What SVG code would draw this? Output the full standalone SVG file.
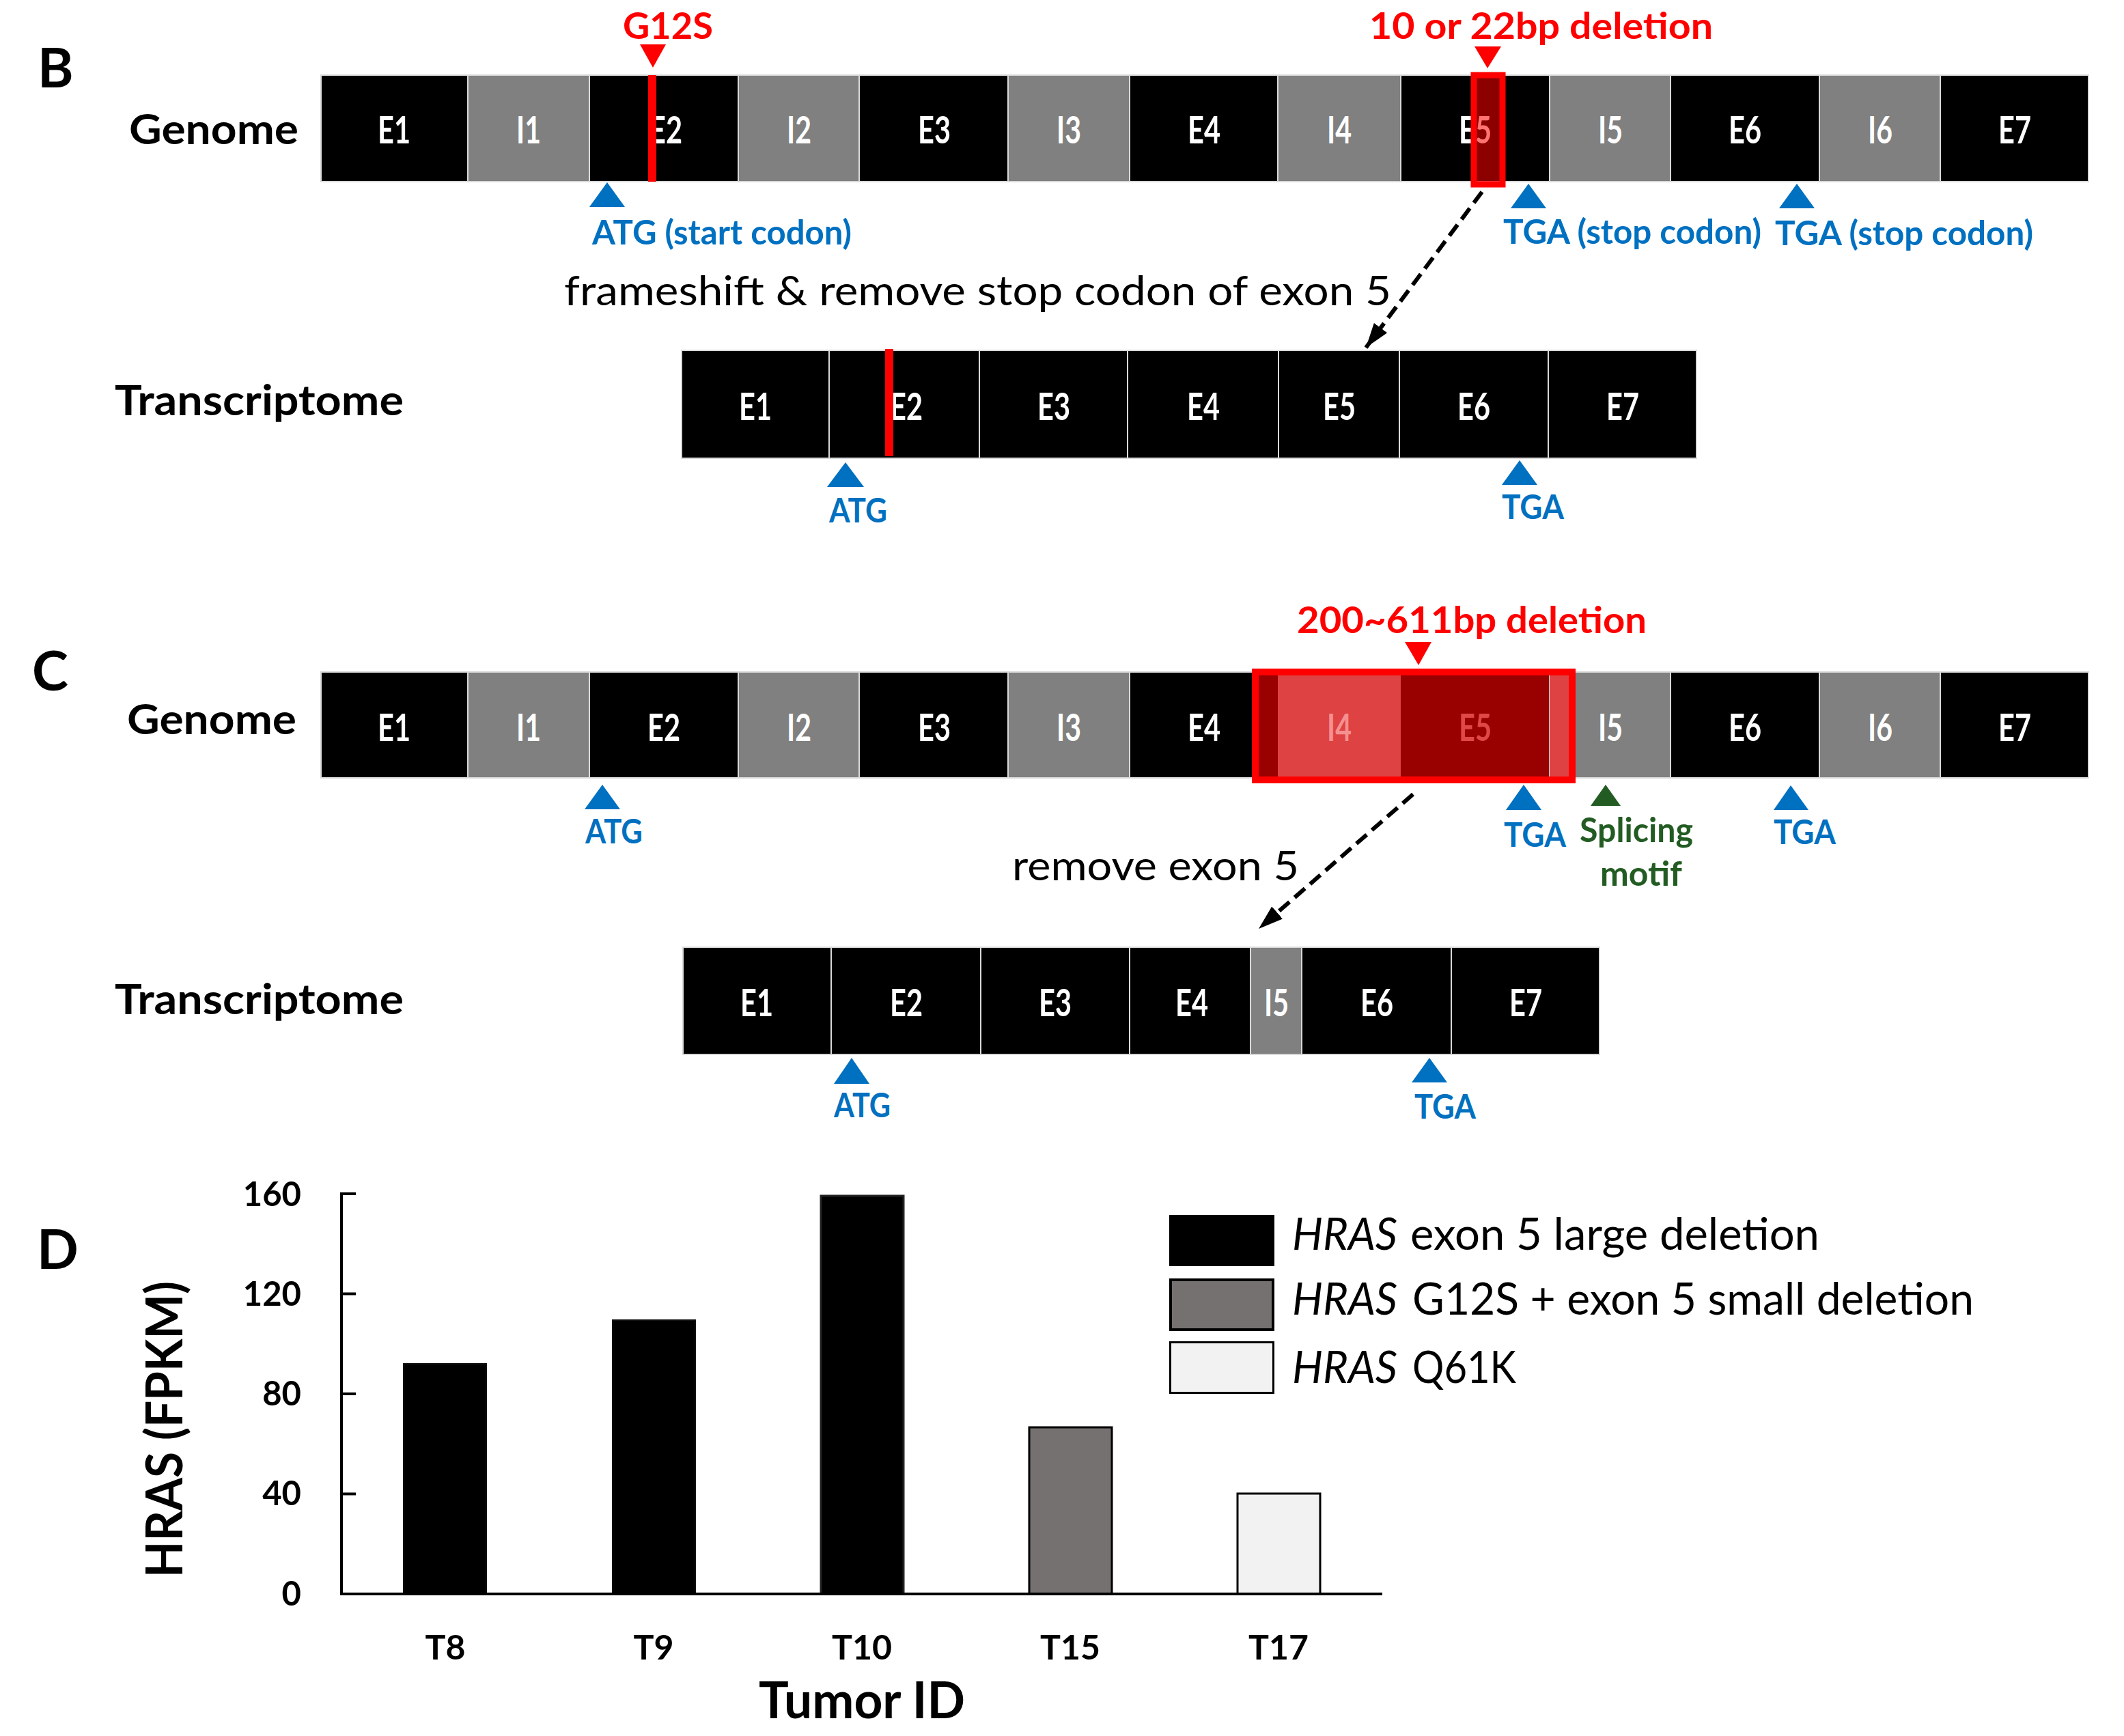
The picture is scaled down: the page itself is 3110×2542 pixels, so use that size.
<svg xmlns="http://www.w3.org/2000/svg" width="3110" height="2542" viewBox="0 0 3110 2542">
<style>
text{font-family:Lato,"Open Sans","Liberation Sans",sans-serif}
.ex{fill:#000;stroke:#d9d9d9;stroke-width:2}
.in{fill:#808080;stroke:#d9d9d9;stroke-width:2}
.seg{font-size:56px;font-weight:bold;fill:#fff;text-anchor:middle}
.panel{font-size:80px;font-weight:bold;fill:#000}
.row{font-size:62px;font-weight:bold;fill:#000}
.blue{font-size:49px;font-weight:bold;fill:#0070C0}
.bluetri{fill:#0070C0}
.red{font-size:54px;font-weight:bold;fill:#FF0000}
.redtri{fill:#FF0000}
.note{font-size:60px;fill:#000}
.green{font-size:49px;font-weight:bold;fill:#235C23}
.tick{font-size:49px;font-weight:bold;fill:#000;text-anchor:end}
.xl{font-size:50px;font-weight:bold;fill:#000;text-anchor:middle}
.leg{font-size:65px;fill:#000}
.axis{stroke:#000;stroke-width:4;fill:none}
.conn{stroke:#000;stroke-width:6;stroke-dasharray:20 10;fill:none}
</style>
<defs>
<marker id="ah" markerUnits="userSpaceOnUse" markerWidth="36" markerHeight="24" refX="36" refY="12" orient="auto">
<path d="M0,0 L36,12 L0,24 z" fill="#000"/>
</marker>
</defs>

<!-- Panel B -->
<text class="panel" x="55" y="128">B</text>
<text class="row" x="189" y="211" textLength="248" lengthAdjust="spacingAndGlyphs">Genome</text>
<g id="b-genome">
<g id="bg-E1"><rect class="ex" x="470" y="110" width="215" height="156"/><text class="seg" x="577" y="210" textLength="48" lengthAdjust="spacingAndGlyphs">E1</text></g>
<g id="bg-I1"><rect class="in" x="685" y="110" width="178" height="156"/><text class="seg" x="774" y="210" textLength="36" lengthAdjust="spacingAndGlyphs">I1</text></g>
<g id="bg-E2"><rect class="ex" x="863" y="110" width="218" height="156"/><text class="seg" x="975" y="210" textLength="48" lengthAdjust="spacingAndGlyphs">E2</text></g>
<g id="bg-I2"><rect class="in" x="1081" y="110" width="177" height="156"/><text class="seg" x="1170" y="210" textLength="36" lengthAdjust="spacingAndGlyphs">I2</text></g>
<g id="bg-E3"><rect class="ex" x="1258" y="110" width="218" height="156"/><text class="seg" x="1368" y="210" textLength="48" lengthAdjust="spacingAndGlyphs">E3</text></g>
<g id="bg-I3"><rect class="in" x="1476" y="110" width="178" height="156"/><text class="seg" x="1565" y="210" textLength="36" lengthAdjust="spacingAndGlyphs">I3</text></g>
<g id="bg-E4"><rect class="ex" x="1654" y="110" width="217" height="156"/><text class="seg" x="1763" y="210" textLength="48" lengthAdjust="spacingAndGlyphs">E4</text></g>
<g id="bg-I4"><rect class="in" x="1871" y="110" width="180" height="156"/><text class="seg" x="1961" y="210" textLength="36" lengthAdjust="spacingAndGlyphs">I4</text></g>
<g id="bg-E5"><rect class="ex" x="2051" y="110" width="218" height="156"/><text class="seg" x="2160" y="210" textLength="48" lengthAdjust="spacingAndGlyphs">E5</text></g>
<g id="bg-I5"><rect class="in" x="2269" y="110" width="177" height="156"/><text class="seg" x="2358" y="210" textLength="36" lengthAdjust="spacingAndGlyphs">I5</text></g>
<g id="bg-E6"><rect class="ex" x="2446" y="110" width="218" height="156"/><text class="seg" x="2555" y="210" textLength="48" lengthAdjust="spacingAndGlyphs">E6</text></g>
<g id="bg-I6"><rect class="in" x="2664" y="110" width="177" height="156"/><text class="seg" x="2753" y="210" textLength="36" lengthAdjust="spacingAndGlyphs">I6</text></g>
<g id="bg-E7"><rect class="ex" x="2841" y="110" width="217" height="156"/><text class="seg" x="2950" y="210" textLength="48" lengthAdjust="spacingAndGlyphs">E7</text></g>
</g>
<g id="b-g12s">
<text class="red" x="912" y="57" textLength="132" lengthAdjust="spacingAndGlyphs">G12S</text>
<polygon class="redtri" points="937,65 975,65 956,99"/>
<rect x="949" y="110" width="12" height="156" fill="#FF0000"/>
</g>
<g id="b-deletion">
<text class="red" x="2005" y="57" textLength="503" lengthAdjust="spacingAndGlyphs">10 or 22bp deletion</text>
<polygon class="redtri" points="2159,68 2198,68 2178,100"/>
<rect x="2158" y="110" width="42" height="160" fill="#FF0000" fill-opacity="0.55" stroke="#FF0000" stroke-width="9"/>
</g>
<g id="b-atg">
<polygon class="bluetri" points="889,267 863,303 915,303"/>
<text class="blue" x="867" y="358" textLength="380" lengthAdjust="spacingAndGlyphs">ATG (start codon)</text>
</g>
<g id="b-tga1">
<polygon class="bluetri" points="2238,269 2212,305 2264,305"/>
<text class="blue" x="2201" y="357" textLength="378" lengthAdjust="spacingAndGlyphs">TGA (stop codon)</text>
</g>
<g id="b-tga2">
<polygon class="bluetri" points="2631,269 2605,305 2657,305"/>
<text class="blue" x="2599" y="359" textLength="378" lengthAdjust="spacingAndGlyphs">TGA (stop codon)</text>
</g>
<text class="note" x="826" y="447" textLength="1211" lengthAdjust="spacingAndGlyphs">frameshift &amp; remove stop codon of exon 5</text>

<text class="row" x="168" y="608" textLength="423" lengthAdjust="spacingAndGlyphs">Transcriptome</text>
<g id="b-transcript">
<g id="bt-E1"><rect class="ex" x="998" y="513" width="216" height="158"/><text class="seg" x="1106" y="615" textLength="48" lengthAdjust="spacingAndGlyphs">E1</text></g>
<g id="bt-E2"><rect class="ex" x="1214" y="513" width="220" height="158"/><text class="seg" x="1327" y="615" textLength="48" lengthAdjust="spacingAndGlyphs">E2</text></g>
<g id="bt-E3"><rect class="ex" x="1434" y="513" width="217" height="158"/><text class="seg" x="1543" y="615" textLength="48" lengthAdjust="spacingAndGlyphs">E3</text></g>
<g id="bt-E4"><rect class="ex" x="1651" y="513" width="221" height="158"/><text class="seg" x="1762" y="615" textLength="48" lengthAdjust="spacingAndGlyphs">E4</text></g>
<g id="bt-E5"><rect class="ex" x="1872" y="513" width="177" height="158"/><text class="seg" x="1961" y="615" textLength="48" lengthAdjust="spacingAndGlyphs">E5</text></g>
<g id="bt-E6"><rect class="ex" x="2049" y="513" width="218" height="158"/><text class="seg" x="2158" y="615" textLength="48" lengthAdjust="spacingAndGlyphs">E6</text></g>
<g id="bt-E7"><rect class="ex" x="2267" y="513" width="217" height="158"/><text class="seg" x="2376" y="615" textLength="48" lengthAdjust="spacingAndGlyphs">E7</text></g>
<rect x="1296" y="511" width="12" height="157" fill="#FF0000"/>
</g>
<g id="bt-atg">
<polygon class="bluetri" points="1238,677 1211,713 1265,713"/>
<text class="blue" x="1214" y="765" textLength="85" lengthAdjust="spacingAndGlyphs">ATG</text>
</g>
<g id="bt-tga">
<polygon class="bluetri" points="2225,674 2199,710 2251,710"/>
<text class="blue" x="2199" y="760" textLength="91" lengthAdjust="spacingAndGlyphs">TGA</text>
</g>

<!-- Panel C -->
<text class="panel" x="47" y="1011">C</text>
<text class="row" x="186" y="1075" textLength="248" lengthAdjust="spacingAndGlyphs">Genome</text>
<g id="c-genome">
<g id="cg-E1"><rect class="ex" x="470" y="984" width="215" height="155"/><text class="seg" x="577" y="1085" textLength="48" lengthAdjust="spacingAndGlyphs">E1</text></g>
<g id="cg-I1"><rect class="in" x="685" y="984" width="178" height="155"/><text class="seg" x="774" y="1085" textLength="36" lengthAdjust="spacingAndGlyphs">I1</text></g>
<g id="cg-E2"><rect class="ex" x="863" y="984" width="218" height="155"/><text class="seg" x="972" y="1085" textLength="48" lengthAdjust="spacingAndGlyphs">E2</text></g>
<g id="cg-I2"><rect class="in" x="1081" y="984" width="177" height="155"/><text class="seg" x="1170" y="1085" textLength="36" lengthAdjust="spacingAndGlyphs">I2</text></g>
<g id="cg-E3"><rect class="ex" x="1258" y="984" width="218" height="155"/><text class="seg" x="1368" y="1085" textLength="48" lengthAdjust="spacingAndGlyphs">E3</text></g>
<g id="cg-I3"><rect class="in" x="1476" y="984" width="178" height="155"/><text class="seg" x="1565" y="1085" textLength="36" lengthAdjust="spacingAndGlyphs">I3</text></g>
<g id="cg-E4"><rect class="ex" x="1654" y="984" width="217" height="155"/><text class="seg" x="1763" y="1085" textLength="48" lengthAdjust="spacingAndGlyphs">E4</text></g>
<g id="cg-I4"><rect x="1871" y="984" width="180" height="155" fill="#DE4242"/><text class="seg" x="1961" y="1085" fill="#F59090" style="fill:#F59090" textLength="36" lengthAdjust="spacingAndGlyphs">I4</text></g>
<g id="cg-E5"><rect x="2051" y="984" width="218" height="155" fill="#990000"/><text class="seg" x="2160" y="1085" style="fill:#E04848" textLength="48" lengthAdjust="spacingAndGlyphs">E5</text></g>
<g id="cg-I5"><rect class="in" x="2269" y="984" width="177" height="155"/><text class="seg" x="2358" y="1085" textLength="36" lengthAdjust="spacingAndGlyphs">I5</text></g>
<g id="cg-E6"><rect class="ex" x="2446" y="984" width="218" height="155"/><text class="seg" x="2555" y="1085" textLength="48" lengthAdjust="spacingAndGlyphs">E6</text></g>
<g id="cg-I6"><rect class="in" x="2664" y="984" width="177" height="155"/><text class="seg" x="2753" y="1085" textLength="36" lengthAdjust="spacingAndGlyphs">I6</text></g>
<g id="cg-E7"><rect class="ex" x="2841" y="984" width="217" height="155"/><text class="seg" x="2950" y="1085" textLength="48" lengthAdjust="spacingAndGlyphs">E7</text></g>
</g>
<g id="c-deletion">
<text class="red" x="1899" y="927" textLength="512" lengthAdjust="spacingAndGlyphs">200~611bp deletion</text>
<polygon class="redtri" points="2057,940 2096,940 2077,974"/>
<rect x="1838" y="984" width="33" height="155" fill="#990000"/>
<rect x="2269" y="984" width="33" height="155" fill="#DE4242"/>
<rect x="1838" y="984" width="464" height="158" fill="none" stroke="#FF0000" stroke-width="10"/>
</g>
<g id="c-atg">
<polygon class="bluetri" points="882,1149 856,1185 908,1185"/>
<text class="blue" x="857" y="1235" textLength="84" lengthAdjust="spacingAndGlyphs">ATG</text>
</g>
<g id="c-tga1">
<polygon class="bluetri" points="2231,1149 2205,1186 2257,1186"/>
<text class="blue" x="2202" y="1240" textLength="91" lengthAdjust="spacingAndGlyphs">TGA</text>
</g>
<g id="c-splice">
<polygon points="2351,1149 2329,1180 2373,1180" fill="#235C23"/>
<text class="green" x="2313" y="1233" textLength="166" lengthAdjust="spacingAndGlyphs">Splicing</text>
<text class="green" x="2343" y="1297" textLength="120" lengthAdjust="spacingAndGlyphs">motif</text>
</g>
<g id="c-tga2">
<polygon class="bluetri" points="2622,1150 2597,1186 2648,1186"/>
<text class="blue" x="2597" y="1236" textLength="91" lengthAdjust="spacingAndGlyphs">TGA</text>
</g>
<text class="note" x="1482" y="1289" textLength="420" lengthAdjust="spacingAndGlyphs">remove exon 5</text>

<text class="row" x="168" y="1485" textLength="423" lengthAdjust="spacingAndGlyphs">Transcriptome</text>
<g id="c-transcript">
<g id="ct-E1"><rect class="ex" x="1000" y="1387" width="217" height="157"/><text class="seg" x="1108" y="1488" textLength="48" lengthAdjust="spacingAndGlyphs">E1</text></g>
<g id="ct-E2"><rect class="ex" x="1217" y="1387" width="219" height="157"/><text class="seg" x="1327" y="1488" textLength="48" lengthAdjust="spacingAndGlyphs">E2</text></g>
<g id="ct-E3"><rect class="ex" x="1436" y="1387" width="218" height="157"/><text class="seg" x="1545" y="1488" textLength="48" lengthAdjust="spacingAndGlyphs">E3</text></g>
<g id="ct-E4"><rect class="ex" x="1654" y="1387" width="177" height="157"/><text class="seg" x="1745" y="1488" textLength="48" lengthAdjust="spacingAndGlyphs">E4</text></g>
<g id="ct-I5"><rect class="in" x="1831" y="1387" width="75" height="157"/><text class="seg" x="1869" y="1488" textLength="36" lengthAdjust="spacingAndGlyphs">I5</text></g>
<g id="ct-E6"><rect class="ex" x="1906" y="1387" width="219" height="157"/><text class="seg" x="2016" y="1488" textLength="48" lengthAdjust="spacingAndGlyphs">E6</text></g>
<g id="ct-E7"><rect class="ex" x="2125" y="1387" width="217" height="157"/><text class="seg" x="2234" y="1488" textLength="48" lengthAdjust="spacingAndGlyphs">E7</text></g>
</g>
<g id="ct-atg">
<polygon class="bluetri" points="1247,1549 1221,1587 1273,1587"/>
<text class="blue" x="1221" y="1636" textLength="83" lengthAdjust="spacingAndGlyphs">ATG</text>
</g>
<g id="ct-tga">
<polygon class="bluetri" points="2093,1549 2067,1585 2119,1585"/>
<text class="blue" x="2071" y="1638" textLength="90" lengthAdjust="spacingAndGlyphs">TGA</text>
</g>

<!-- Connectors -->
<g id="connectors">
<line class="conn" x1="2170" y1="281" x2="2000" y2="509" marker-end="url(#ah)"/>
<line class="conn" x1="2069" y1="1163" x2="1843" y2="1360" marker-end="url(#ah)"/>
</g>

<!-- Panel D -->
<text class="panel" x="54" y="1858">D</text>
<g id="chart">
<g id="y-axis">
<line class="axis" x1="500" y1="1746" x2="500" y2="2336"/>
<line class="axis" x1="500" y1="1748" x2="521" y2="1748"/>
<line class="axis" x1="500" y1="1894.5" x2="521" y2="1894.5"/>
<line class="axis" x1="500" y1="2041" x2="521" y2="2041"/>
<line class="axis" x1="500" y1="2187.5" x2="521" y2="2187.5"/>
<text class="tick" x="441" y="1766">160</text>
<text class="tick" x="441" y="1912">120</text>
<text class="tick" x="441" y="2058">80</text>
<text class="tick" x="441" y="2204">40</text>
<text class="tick" x="441" y="2351">0</text>
<text font-size="74" font-weight="bold" text-anchor="middle" transform="translate(267,2093) rotate(-90)" textLength="434" lengthAdjust="spacingAndGlyphs">HRAS (FPKM)</text>
</g>
<g id="bars">
<rect id="bar-T8" x="591" y="1997" width="121" height="337" fill="#000" stroke="#111" stroke-width="2"/>
<rect id="bar-T9" x="897" y="1933" width="121" height="401" fill="#000" stroke="#111" stroke-width="2"/>
<rect id="bar-T10" x="1202" y="1751" width="121" height="583" fill="#000" stroke="#222" stroke-width="3"/>
<rect id="bar-T15" x="1507" y="2090" width="121" height="244" fill="#767171" stroke="#000" stroke-width="3"/>
<rect id="bar-T17" x="1812" y="2187" width="121" height="147" fill="#F2F2F2" stroke="#000" stroke-width="3"/>
</g>
<line class="axis" x1="498" y1="2334" x2="2024" y2="2334"/>
<g id="x-labels">
<text class="xl" x="652" y="2430">T8</text>
<text class="xl" x="957" y="2430">T9</text>
<text class="xl" x="1262" y="2430">T10</text>
<text class="xl" x="1567" y="2430">T15</text>
<text class="xl" x="1872" y="2430">T17</text>
<text x="1111" y="2516" font-size="74" font-weight="bold" textLength="302" lengthAdjust="spacingAndGlyphs">Tumor ID</text>
</g>
<g id="legend">
<g id="leg-1">
<rect x="1712" y="1779" width="154" height="75" fill="#000"/>
<text class="leg" x="1892" y="1830" font-style="italic" textLength="154" lengthAdjust="spacingAndGlyphs">HRAS</text>
<text class="leg" x="2065" y="1830" textLength="599" lengthAdjust="spacingAndGlyphs">exon 5 large deletion</text>
</g>
<g id="leg-2">
<rect x="1714" y="1874" width="150" height="73" fill="#767171" stroke="#000" stroke-width="4"/>
<text class="leg" x="1892" y="1925" font-style="italic" textLength="154" lengthAdjust="spacingAndGlyphs">HRAS</text>
<text class="leg" x="2068" y="1925" textLength="822" lengthAdjust="spacingAndGlyphs">G12S + exon 5 small deletion</text>
</g>
<g id="leg-3">
<rect x="1713.5" y="1965.5" width="151" height="74" fill="#F2F2F2" stroke="#000" stroke-width="3"/>
<text class="leg" x="1892" y="2025" font-style="italic" textLength="154" lengthAdjust="spacingAndGlyphs">HRAS</text>
<text class="leg" x="2068" y="2025" textLength="152" lengthAdjust="spacingAndGlyphs">Q61K</text>
</g>
</g>
</g>
</svg>
